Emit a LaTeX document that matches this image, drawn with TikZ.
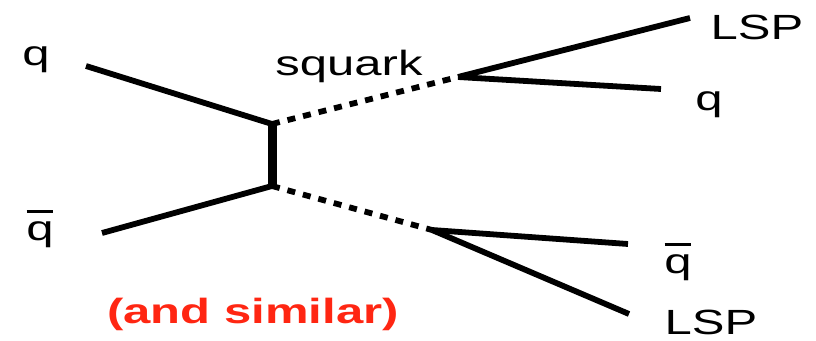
\documentclass[tikz,border=0pt]{standalone}
\usepackage{fontspec}
\usepackage{graphicx}
\usetikzlibrary{calc}
\setmainfont{Liberation Sans}
\definecolor{simred}{RGB}{255,38,18}
\newcommand\widetxt[1]{\scalebox{1.4}[1]{#1}}
\newcommand\barq{\ooalign{\hidewidth\raisebox{0.76em}{\rule{0.55em}{0.085em}}\hidewidth\cr q\cr}}
\tikzset{
  fermion/.style={line width=5.8pt, line cap=butt},
  prop/.style={line width=9pt, line cap=butt},
  sparticle/.style={line width=5.8pt, dash pattern=on 8pt off 8pt},
  lbl/.style={anchor=base, inner sep=0pt, font=\fontsize{35}{40}\selectfont},
}
\begin{document}
\begin{tikzpicture}[x=1pt,y=-1pt]
\useasboundingbox (0,0) rectangle (816,340);
% vertices
\coordinate (qin) at (86,66);
\coordinate (qbin) at (102,233);
\coordinate (A) at (272,124);
\coordinate (B) at (272,186);
\coordinate (C) at (458,77);
\coordinate (D) at (432,230);
\coordinate (lsp1) at (690,18);
\coordinate (q2) at (661,89);
\coordinate (qb2) at (628,244);
\coordinate (lsp2) at (629,314);
% lines
\draw[fermion] (qin) -- (A);
\draw[fermion] (qbin) -- (B);
\draw[prop] ($(A)+(0,-2)$) -- ($(B)+(0,2)$);
\draw[sparticle] (A) -- (C);
\draw[sparticle] (B) -- (D);
\draw[fermion] (C) -- (lsp1);
\draw[fermion] (C) -- (q2);
\draw[fermion] (D) -- (qb2);
\draw[fermion] (D) -- (lsp2);
% labels
\node[lbl] (lq) at (36,65) {\widetxt{q}};
\node[lbl] (lqb) at (40,240) {\widetxt{\barq}};
\node[lbl] (lsq) at (349,75) {\widetxt{squark}};
\node[lbl] (llsp1) at (757,39) {\widetxt{LSP}};
\node[lbl] (lq2) at (709,110) {\widetxt{q}};
\node[lbl] (lqb2) at (678,273) {\widetxt{\barq}};
\node[lbl] (llsp2) at (711,334) {\widetxt{LSP}};
\node[lbl, text=simred, font=\fontsize{35}{40}\selectfont\bfseries] (sim) at (253,323) {\widetxt{(and similar)}};
\end{tikzpicture}
\end{document}
